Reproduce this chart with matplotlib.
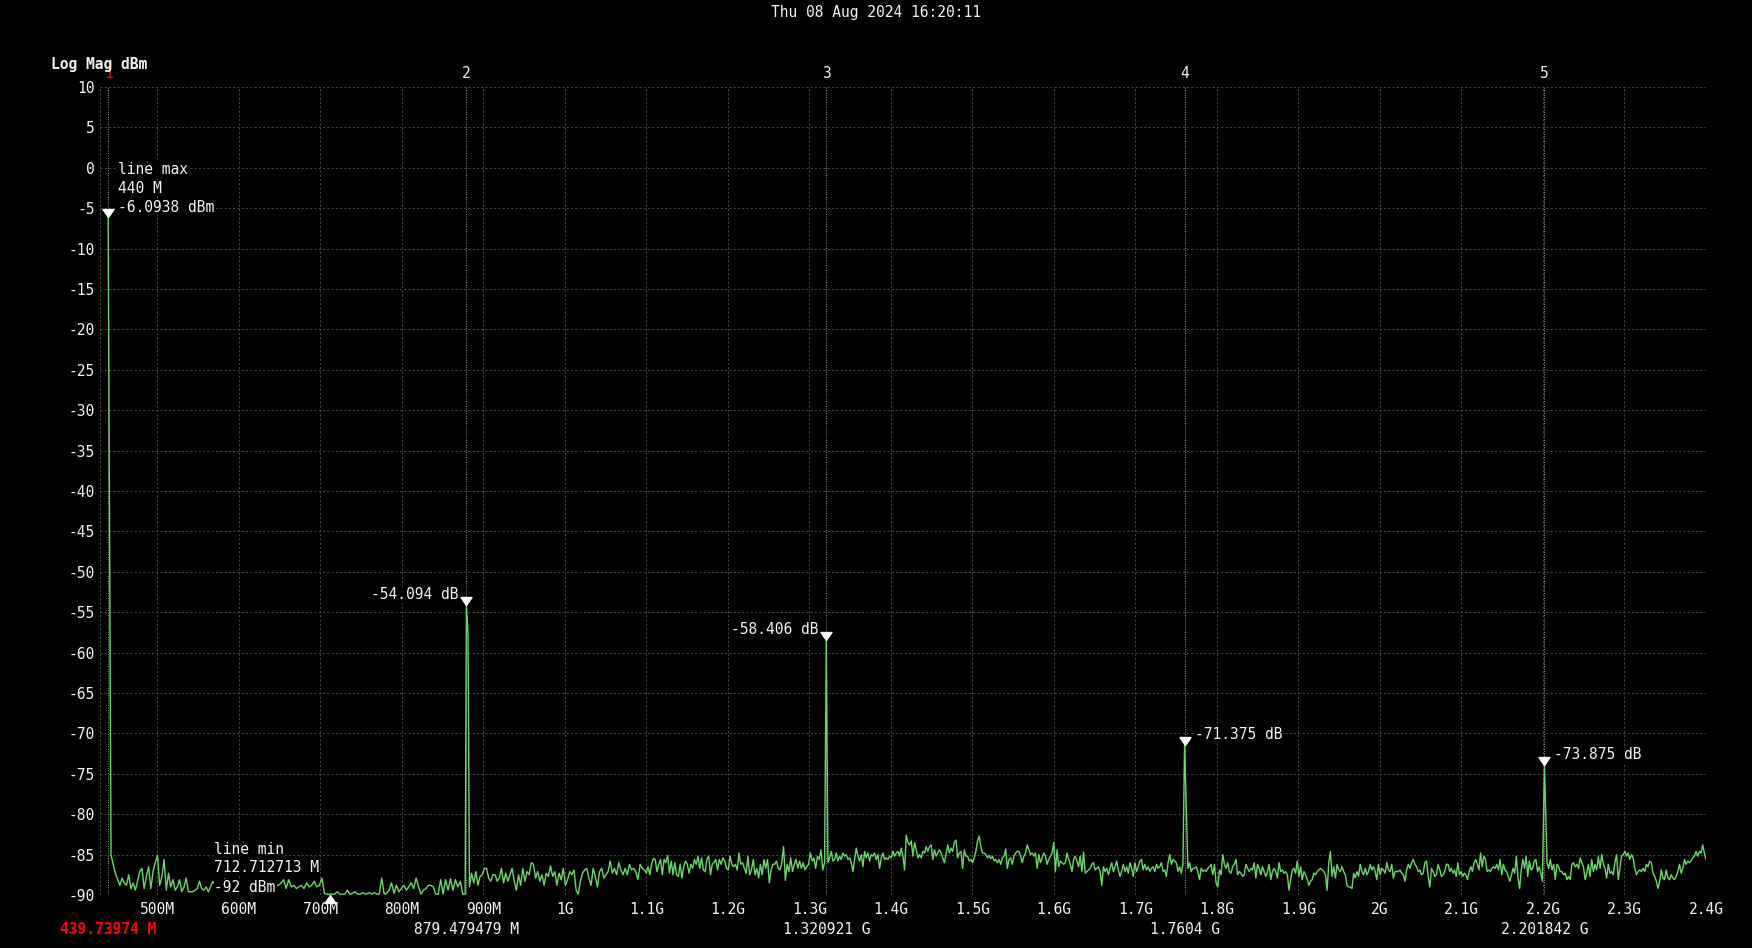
import numpy as np
import matplotlib.pyplot as plt
from matplotlib.path import Path
from matplotlib import transforms

plt.rcParams['font.family'] = ['DejaVu Sans Mono', 'DejaVu Sans']
FS = 10.5
TXT = '#f2f2f2'

# ---- trace data: sweep segments (start MHz, stop MHz) + dBm values ----
seg_bounds = [
    (443.5, 568.3), (570.3, 650.1), (652.1, 758.5), (760.5, 875.0),
    (883.2, 1095.1), (1097.9, 1318.8), (1322.9, 1433.3), (1435.3, 1758.4),
    (1764.5, 2083.6), (2085.6, 2199.3), (2205.0, 2400.0),
]
seg1_db = [-85.0, -86.2, -87.3, -88.1, -88.8, -87.9, -88.5, -88.8, -87.5, -89.2, -88.5, -89.4,
           -88.3, -87.1, -86.7, -89.2, -87.7, -86.5, -89.2, -87.1, -86.0, -85.1, -88.8, -87.7,
           -85.6, -89.4, -87.3, -89.0, -88.1, -89.4, -89.0, -88.1, -89.6, -89.0, -87.9, -89.6,
           -89.6, -89.6, -89.4, -89.2, -88.3, -89.2, -89.4, -89.0, -89.6, -89.0, -88.3]
seg2_db = [-88.6, -89.2, -88.0, -89.5, -88.8, -89.6, -88.4, -89.1, -89.7, -88.9, -89.3, -88.2,
           -89.0, -88.7]
seg3_db = [-88.5, -88.1, -89.2, -88.1, -89.0, -88.8, -89.2, -89.0, -88.8, -89.2, -88.5, -89.0,
           -88.8, -88.3, -89.0, -88.8, -87.9, -89.8, -89.9, -89.9, -89.9, -89.9, -89.6, -89.9,
           -89.9, -89.9, -89.4, -89.9, -89.8, -89.6, -89.9, -89.9, -89.7, -89.9, -89.8]
seg4_db = [-89.7, -89.9, -89.7, -89.9, -89.9, -87.9, -89.9, -89.8, -89.4, -88.5, -89.8, -88.8,
           -89.6, -89.2, -88.8, -89.4, -89.0, -88.5, -89.2, -87.9, -89.0, -89.9, -89.4, -89.2,
           -88.8, -88.8, -89.0, -89.9, -89.9, -88.1, -89.9, -88.1, -89.4, -88.0, -89.4, -88.1,
           -89.0, -88.3, -89.9]
seg5_db = [-89.0, -87.3, -88.5, -87.1, -88.8, -87.7, -87.5, -86.7, -86.7, -87.9, -88.3, -87.5,
           -87.5, -88.3, -87.9, -86.7, -88.5, -87.3, -88.3, -87.5, -86.7, -88.3, -89.4, -87.5,
           -88.8, -86.7, -88.3, -87.1, -87.5, -86.0, -86.2, -87.9, -87.1, -88.3, -87.5, -88.8,
           -87.3, -87.7, -86.4, -87.7, -87.1, -88.8, -87.3, -88.1, -86.7, -88.8, -88.1, -87.1,
           -87.5, -86.9, -89.4, -89.9, -88.3, -87.3, -86.9, -86.7, -87.9, -88.8, -86.7, -87.7,
           -89.0, -87.1, -86.7, -87.9, -87.5, -87.1, -85.8, -87.3, -86.7, -87.5, -86.0, -86.9,
           -87.5, -86.7, -87.5, -86.2, -86.9, -86.7, -87.1, -88.1, -86.2, -86.7]
seg6_db = [-86.9, -87.3, -86.5, -87.5, -86.2, -85.5, -85.6, -87.1, -86.2, -85.6, -87.5, -85.6,
           -86.0, -85.1, -87.3, -85.8, -87.5, -86.0, -87.5, -87.7, -86.2, -87.9, -86.5, -85.8,
           -86.2, -87.3, -86.2, -86.7, -85.6, -86.2, -85.2, -86.7, -85.4, -86.9, -87.1, -85.6,
           -85.2, -87.5, -86.2, -86.0, -85.6, -86.9, -85.6, -86.2, -85.4, -85.8, -86.7, -86.9,
           -85.2, -86.2, -86.5, -86.2, -86.9, -84.8, -86.2, -86.0, -86.7, -87.3, -85.2, -87.5,
           -86.9, -85.6, -87.5, -86.7, -87.9, -86.2, -87.5, -85.6, -86.7, -85.6, -88.5, -86.9,
           -86.2, -86.2, -85.8, -86.7, -86.9, -86.0, -84.0, -88.2, -86.2, -87.1, -85.4, -87.1,
           -86.2, -85.6, -86.7, -85.8, -86.7, -86.0, -86.9, -86.5, -86.2, -84.8, -85.8, -85.4,
           -86.7, -85.2, -85.6, -84.4, -86.9, -86.0]
seg7_db = [-86.0, -85.4, -84.6, -85.8, -85.6, -84.8, -85.8, -85.2, -85.6, -84.8, -85.2, -85.0,
           -85.6, -85.4, -86.0, -87.1, -85.6, -84.2, -85.2, -85.8, -85.0, -86.5, -84.6, -85.4,
           -84.8, -85.8, -85.0, -85.2, -84.8, -85.6, -85.0, -86.7, -85.4, -84.8, -85.6, -85.4,
           -85.6, -85.2, -85.4, -84.6, -85.2, -84.8, -84.6, -85.2, -84.2, -85.2, -86.9, -82.6,
           -83.5, -83.8, -83.3, -85.2, -83.5, -84.4, -85.4]
seg8_db = [-85.0, -85.4, -84.6, -84.8, -84.0, -84.6, -84.0, -83.8, -85.6, -84.4, -85.2, -84.8,
           -84.4, -84.8, -85.4, -86.0, -85.0, -83.8, -84.8, -84.2, -84.6, -83.5, -83.2, -85.4,
           -84.8, -84.6, -86.7, -84.4, -85.2, -85.2, -85.8, -85.6, -86.0, -85.4, -84.6, -83.3,
           -82.7, -84.0, -84.8, -84.8, -85.0, -85.4, -85.1, -85.5, -85.2, -85.8, -85.6, -86.0,
           -85.6, -86.2, -85.4, -85.2, -84.3, -86.7, -85.6, -85.4, -86.2, -85.2, -84.8, -84.6,
           -84.6, -85.2, -86.0, -85.2, -84.8, -83.8, -84.4, -85.0, -84.8, -85.2, -84.8, -86.7,
           -85.0, -86.0, -85.4, -84.8, -85.2, -86.2, -85.6, -85.2, -84.8, -83.5, -87.1, -84.4,
           -86.5, -85.8, -86.0, -86.2, -86.0, -84.8, -85.6, -86.2, -87.1, -85.6, -85.2, -85.8,
           -86.5, -85.2, -87.1, -84.7, -87.3, -87.1, -86.9, -86.7, -86.2, -86.0, -86.9, -86.7,
           -86.5, -87.1, -88.8, -86.5, -87.1, -86.7, -87.5, -86.7, -86.0, -87.1, -86.5, -85.8,
           -86.9, -87.7, -87.1, -86.2, -87.1, -86.5, -87.3, -86.0, -86.7, -87.7, -86.0, -87.1,
           -86.5, -85.8, -85.6, -86.9, -86.2, -86.9, -86.5, -87.1, -86.7, -86.5, -87.1, -86.2,
           -86.7, -86.5, -86.0, -87.1, -86.9, -87.7, -86.0, -85.0, -86.2, -85.6, -85.8, -86.0,
           -87.1, -86.5, -87.3, -86.2]
seg9_db = [-86.7, -86.0, -87.1, -86.7,
           -86.7, -86.5, -87.1, -88.1, -86.7, -87.1, -86.9, -87.1, -86.7, -86.5, -86.2, -87.5,
           -86.2, -88.5, -89.0, -86.9, -87.5, -85.0, -86.2, -86.7, -86.0, -87.1, -87.3, -86.5,
           -86.2, -85.6, -87.5, -87.1, -87.3, -87.7, -87.5, -86.2, -86.7, -87.1, -86.7, -86.9,
           -86.0, -87.9, -86.2, -86.7, -87.5, -86.5, -87.1, -87.7, -87.1, -86.2, -88.1, -87.1,
           -86.7, -87.1, -87.9, -86.0, -87.1, -86.9, -87.3, -87.1, -87.5, -89.4, -88.1, -86.9,
           -86.7, -87.3, -85.8, -87.7, -86.5, -88.1, -87.1, -87.5, -88.1, -88.8, -88.3, -88.1,
           -87.3, -87.5, -87.1, -86.9, -86.7, -86.9, -87.1, -87.5, -89.4, -86.0, -84.6, -87.7,
           -86.5, -87.9, -86.2, -86.9, -87.1, -86.5, -87.1, -87.5, -88.8, -89.0, -89.0, -89.2,
           -87.3, -87.9, -87.1, -87.7, -86.2, -87.1, -87.5, -86.7, -87.5, -87.1, -86.2, -86.9,
           -86.5, -87.1, -88.1, -86.2, -87.5, -86.7, -86.9, -87.3, -86.0, -86.9, -87.1, -86.2,
           -87.9, -87.1, -87.1, -87.1, -86.9, -87.3, -87.5, -88.3, -86.9, -86.2, -86.7, -86.0,
           -85.6, -86.2, -86.5, -87.1, -86.9, -87.5, -87.3, -86.0, -85.8, -87.7, -89.0, -86.7,
           -87.1, -87.7, -87.5, -86.2, -86.9, -87.7, -87.5, -87.1, -86.2, -86.2]
seg10_db = [-87.1, -86.7, -87.3, -86.9, -87.7, -86.0, -87.5, -87.1, -87.7, -87.3, -87.5, -88.1,
            -87.1, -86.5, -87.1, -86.0, -85.6, -86.2, -86.9, -84.8, -86.5, -85.2, -85.6, -87.1,
            -86.9, -87.1, -86.7, -86.5, -86.7, -86.2, -86.9, -85.6, -87.5, -86.2, -86.9, -87.1,
            -87.7, -88.3, -87.5, -86.7, -87.3, -85.2, -87.9, -89.2, -86.9, -85.6, -86.7, -85.2,
            -87.7, -85.8, -86.9, -86.7, -85.8, -85.6, -87.1, -86.5, -87.3, -88.3]
seg11_db = [-86.0, -86.7, -85.6, -86.9, -86.2, -88.1, -86.2, -86.5, -87.1, -87.1, -87.5, -87.3,
            -88.1, -87.7, -88.1, -86.2, -86.0, -86.5, -86.2, -86.7, -85.4, -86.0, -86.5, -88.1,
            -87.3, -86.2, -87.7, -85.6, -87.1, -86.2, -86.9, -85.2, -86.7, -85.0, -86.2, -86.7,
            -87.9, -86.2, -87.3, -87.1, -87.5, -86.0, -85.0, -88.1, -86.7, -85.2, -85.0, -84.6,
            -85.2, -84.8, -85.6, -85.0, -85.4, -86.7, -87.5, -87.1, -86.9, -87.1, -86.7, -87.1,
            -86.2, -86.5, -85.8, -86.0, -87.3, -87.7, -88.3, -89.2, -88.3, -86.9, -87.9, -88.1,
            -86.9, -87.9, -88.1, -87.5, -87.9, -88.1, -87.7, -87.1, -86.2, -87.3, -86.7, -85.6,
            -86.2, -85.8, -86.0, -85.8, -85.4, -85.2, -84.6, -85.2, -84.6, -84.8, -83.8, -84.8,
            -85.6]
seg_db = [seg1_db, seg2_db, seg3_db, seg4_db, seg5_db, seg6_db, seg7_db, seg8_db,
          seg9_db, seg10_db, seg11_db]

# narrow carrier / harmonic lines (MHz, dBm)
spike_mhz = [440.0, 877.9, 879.479479, 881.4, 1320.921, 1760.4, 2201.842]
spike_db = [-6.0938, -89.9, -54.094, -57.8, -58.406, -71.375, -73.875]

# markers
mk_mhz = [440.0, 879.479479, 1320.921, 1760.4, 2201.842]
mk_db = [-6.0938, -54.094, -58.406, -71.375, -73.875]
mk_freq_txt = ['439.73974 M', '879.479479 M', '1.320921 G', '1.7604 G', '2.201842 G']
mk_num = ['1', '2', '3', '4', '5']
min_mhz, min_db = 712.712713, -92.0

xticks = [500, 600, 700, 800, 900, 1000, 1100, 1200, 1300, 1400, 1500, 1600, 1700,
          1800, 1900, 2000, 2100, 2200, 2300, 2400]
xlabels = ['500M', '600M', '700M', '800M', '900M', '1G', '1.1G', '1.2G', '1.3G', '1.4G',
           '1.5G', '1.6G', '1.7G', '1.8G', '1.9G', '2G', '2.1G', '2.2G', '2.3G', '2.4G']
yticks = list(range(10, -95, -5))

# build the trace
f_all = [np.array([spike_mhz[0]])]
d_all = [np.array([spike_db[0]])]
for (a, b), vals in zip(seg_bounds, seg_db):
    f_all.append(np.linspace(a, b, len(vals)))
    d_all.append(np.array(vals))
f = np.concatenate(f_all + [np.array(spike_mhz[1:])])
d = np.concatenate(d_all + [np.array(spike_db[1:])])
order = np.argsort(f)
f, d = f[order], d[order]

fig = plt.figure(figsize=(17.52, 9.48), dpi=100, facecolor='black')
ax = fig.add_axes([100 / 1752, 53 / 948, 1606 / 1752, 808 / 948])
ax.set_facecolor('black')
ax.set_xlim(430, 2400)
ax.set_ylim(-90, 10)
for s in ax.spines.values():
    s.set_visible(False)

gstyle = dict(color='#474747', linestyle=(0, (2.2, 2.2)), linewidth=0.7)
ax.set_xticks(xticks)
ax.set_xticklabels(xlabels)
ax.set_yticks(yticks)
ax.set_yticklabels([str(v) for v in yticks])
ax.grid(True, **gstyle)
ax.axvline(430, **gstyle)
ax.tick_params(length=0, colors=TXT, labelsize=FS)
ax.tick_params(axis='x', pad=5)
ax.tick_params(axis='y', pad=3.5)

for fm in mk_mhz:
    ax.axvline(fm, color='#9a9a9a', linestyle=(0, (1, 1.5)), linewidth=0.7, zorder=1.5)

ax.plot(f, d, color='#6ad66a', linewidth=1.0, zorder=3)

tri_down = Path([(0, 0), (-5.5, 8), (5.5, 8), (0, 0)])
tri_up = Path([(0, 0), (-5.5, -8), (5.5, -8), (0, 0)])
ax.plot(mk_mhz, mk_db, linestyle='none', marker=tri_down, markersize=11.5,
        color='white', zorder=5, clip_on=False)
ax.plot([min_mhz], [max(min_db, -90)], linestyle='none', marker=tri_up, markersize=11.5,
        color='white', zorder=5, clip_on=False)

box = dict(facecolor='black', edgecolor='none', pad=0.6)


def mtext(x, y, s, dx, dy, ha='left'):
    ax.annotate(s, (x, y), xytext=(dx, dy), textcoords='offset pixels', ha=ha, va='center',
                color=TXT, fontsize=FS, bbox=box, zorder=6, annotation_clip=False)


# marker 1 / line max
mtext(mk_mhz[0], mk_db[0], 'line max', 10, 48)
mtext(mk_mhz[0], mk_db[0], '440 M', 10, 29)
mtext(mk_mhz[0], mk_db[0], '%.4f dBm' % mk_db[0], 10, 10)
# harmonic markers
mtext(mk_mhz[1], mk_db[1], '%.3f dB' % mk_db[1], -8, 10, ha='right')
mtext(mk_mhz[2], mk_db[2], '%.3f dB' % mk_db[2], -8, 10, ha='right')
mtext(mk_mhz[3], mk_db[3], '%.3f dB' % mk_db[3], 10, 10)
mtext(mk_mhz[4], mk_db[4], '%.3f dB' % mk_db[4], 10, 10)
# line min
mtext(min_mhz, -90, 'line min', -116, 46)
mtext(min_mhz, -90, '%.6f M' % min_mhz, -116, 27)
mtext(min_mhz, -90, '%d dBm' % min_db, -116, 8)

# marker numbers above plot and frequencies below
tr = transforms.blended_transform_factory(ax.transData, fig.transFigure)
for i, fm in enumerate(mk_mhz):
    c = 'red' if i == 0 else TXT
    fig.text(fm, 1 - 73 / 948, mk_num[i], transform=tr, ha='center', va='center',
             color=c, fontsize=FS)
    fig.text(fm, 1 - 930 / 948, mk_freq_txt[i], transform=tr, ha='center', va='center',
             color=c, fontsize=FS, fontweight='bold' if i == 0 else 'normal')

fig.text(51 / 1752, 1 - 64 / 948, 'Log Mag dBm', ha='left', va='center', color=TXT,
         fontsize=FS, fontweight='bold')
fig.text(0.5, 1 - 13 / 948, 'Thu 08 Aug 2024 16:20:11', ha='center', va='center',
         color=TXT, fontsize=FS)

fig.savefig('out.png', dpi=100, facecolor='black')
